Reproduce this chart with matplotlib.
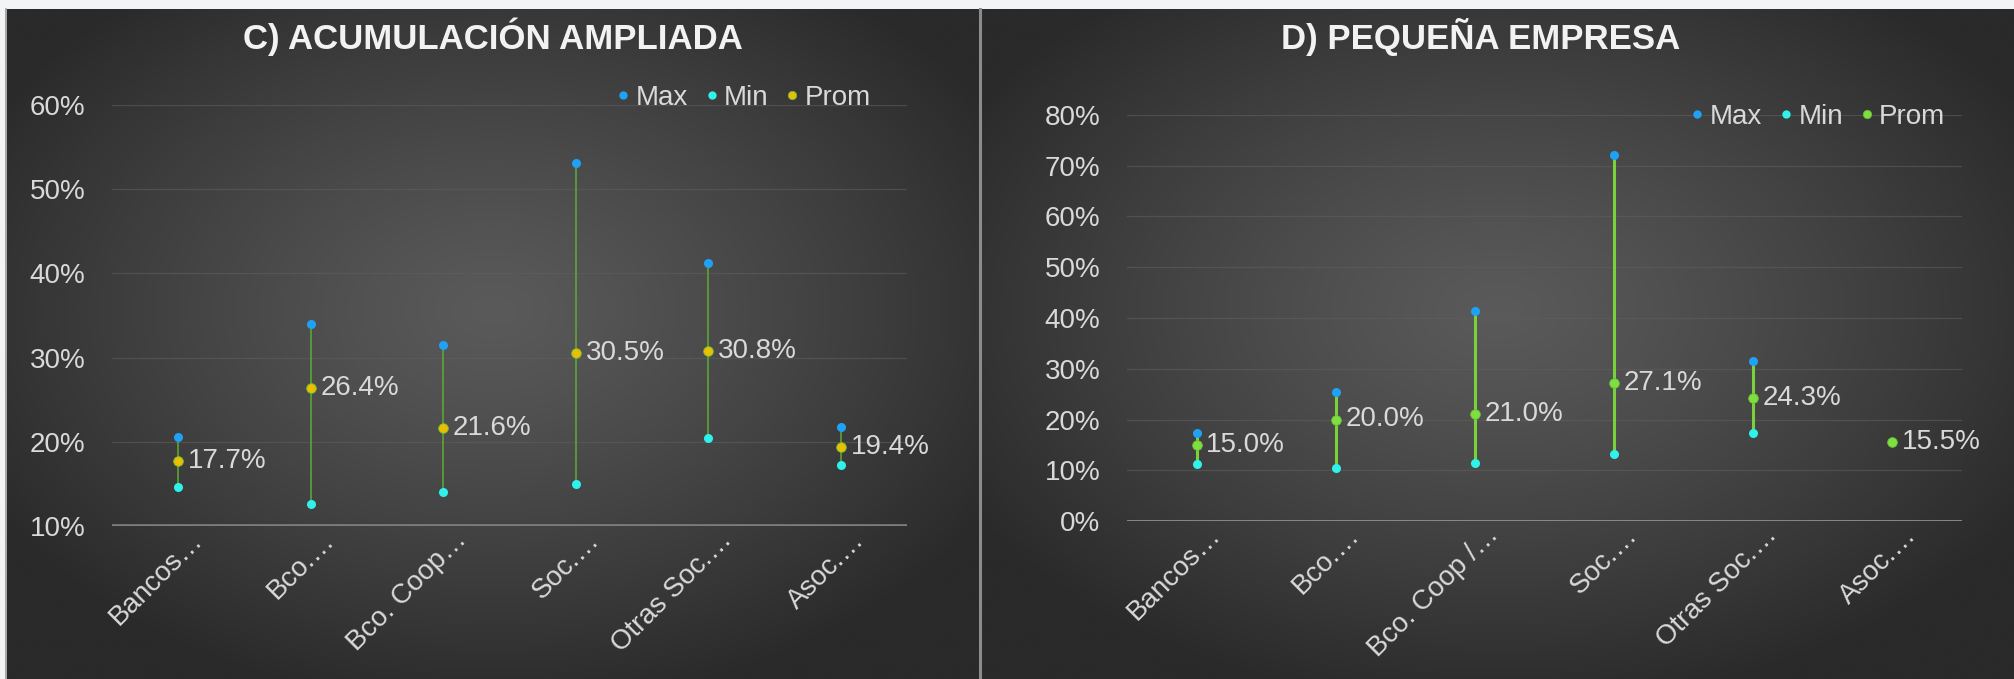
import numpy as np
import matplotlib.pyplot as plt
from matplotlib.ticker import PercentFormatter
from matplotlib.transforms import ScaledTranslation
from matplotlib.lines import Line2D

plt.rcParams['font.family'] = ['Liberation Sans', 'DejaVu Sans']

# Panel C data
cats_c = ["Bancos…", "Bco.…", "Bco. Coop…", "Soc.…", "Otras Soc.…", "Asoc.…"]
max_c = [0.206, 0.340, 0.315, 0.531, 0.412, 0.217]
min_c = [0.146, 0.126, 0.140, 0.150, 0.205, 0.173]
prom_c = [0.177, 0.264, 0.216, 0.305, 0.308, 0.194]

# Panel D data (Asoc. has only the average)
cats_d = ["Bancos…", "Bco.…", "Bco. Coop /…", "Soc.…", "Otras Soc.…", "Asoc.…"]
max_d = [0.173, 0.254, 0.413, 0.722, 0.315, np.nan]
min_d = [0.112, 0.104, 0.114, 0.132, 0.173, np.nan]
prom_d = [0.150, 0.200, 0.210, 0.271, 0.243, 0.155]

W, H = 2015, 679
fig = plt.figure(figsize=(W / 100, H / 100), dpi=100)
fig.patch.set_facecolor('#f3f4f6')

# background panels with radial gradient
bg = fig.add_axes([0, 0, 1, 1], zorder=-10)
bg.axis('off')


def gradient(x0, x1, y0, y1):
    xs = np.linspace(-1, 1, 300)
    ys = np.linspace(-1, 1, 200)
    gx, gy = np.meshgrid(xs, ys)
    r = np.clip(np.sqrt(gx ** 2 + (gy + 0.1) ** 2) / 1.2, 0, 1) ** 1.2
    inner = np.array([0x5a, 0x5a, 0x5a]) / 255
    outer = np.array([0x2a, 0x2a, 0x2a]) / 255
    img = inner[None, None, :] * (1 - r[..., None]) + outer[None, None, :] * r[..., None]
    bg.imshow(img, extent=(x0, x1, y1, y0), aspect='auto', interpolation='bilinear')


gradient(7, 979, 9, H)
gradient(982, W, 9, H)
bg.plot([6.5, 6.5], [9, H], color='#9a9a9a', lw=1.2)
bg.plot([980.5, 980.5], [9, H], color='#8c8c8c', lw=2.2)
bg.set_xlim(0, W)
bg.set_ylim(H, 0)

c_max, c_min = '#1fa2f5', '#2ff2ea'
txt = '#d9d9d9'
fs = 20


def panel(rect, cats, vmax, vmin, vprom, ylim, yt, prom_col, line_col, lw, base_col, base_lw, title, tx, leg_anchor):
    ax = fig.add_axes(rect)
    ax.set_facecolor('none')
    x = np.arange(len(cats))
    ax.vlines(x, vmin, vmax, color=line_col, lw=lw, zorder=2)
    ax.plot(x, vmax, 'o', color=c_max, ms=6.5, mew=0, zorder=3, clip_on=False)
    ax.plot(x, vmin, 'o', color=c_min, ms=6.5, mew=0, zorder=3, clip_on=False)
    ax.plot(x, vprom, 'o', color=prom_col, ms=7, mew=0.6, mec='#6ab83a', zorder=4, clip_on=False)
    for xi, v in zip(x, vprom):
        ax.annotate(f"{v * 100:.1f}%", (xi, v), xytext=(7, 0), textcoords='offset points',
                    ha='left', va='center', color=txt, fontsize=fs)
    ax.set_xlim(-0.5, len(cats) - 0.5)
    ax.set_ylim(*ylim)
    ax.set_yticks(yt)
    ax.yaxis.set_major_formatter(PercentFormatter(1.0, decimals=0))
    ax.grid(axis='y', color='#5e5e5e', lw=0.9, alpha=0.6)
    ax.axhline(ylim[0], color=base_col, lw=base_lw, zorder=1)
    for s in ax.spines.values():
        s.set_visible(False)
    ax.tick_params(axis='y', length=0, pad=19, labelsize=fs, labelcolor=txt)
    ax.tick_params(axis='x', length=0, pad=0, labelsize=fs, labelcolor=txt)
    ax.set_xticks(x)
    ax.set_xticklabels(cats, rotation=45, ha='right', va='center', rotation_mode='anchor')
    off = ScaledTranslation(0.20, -0.10, fig.dpi_scale_trans)
    for lbl in ax.get_xticklabels():
        lbl.set_transform(lbl.get_transform() + off)
    handles = [Line2D([], [], ls='none', marker='o', ms=6, mew=0, color=c_max),
               Line2D([], [], ls='none', marker='o', ms=6, mew=0, color=c_min),
               Line2D([], [], ls='none', marker='o', ms=6, mew=0.6, mec='#6ab83a', color=prom_col)]
    ax.legend(handles, ['Max', 'Min', 'Prom'], ncol=3, loc='center right', bbox_to_anchor=leg_anchor,
              frameon=False, fontsize=fs, labelcolor=txt, handletextpad=0.1, columnspacing=0.5,
              handlelength=0.7, borderpad=0, borderaxespad=0)
    fig.text(tx, 1 - 37 / H, title, ha='center', va='center', color='#f2f2f2',
             fontsize=25, fontweight='bold')
    return ax


panel([112 / W, 1 - 526 / H, 795 / W, 421 / H], cats_c, max_c, min_c, prom_c,
      (0.1, 0.6), np.arange(0.1, 0.61, 0.1), '#e8c000', '#5cae32', 1.1, '#808080', 2.6,
      "C) ACUMULACIÓN AMPLIADA", 493 / W, (0.955, 1.017))

panel([1127 / W, 1 - 521 / H, 835 / W, 406 / H], cats_d, max_d, min_d, prom_d,
      (0.0, 0.8), np.arange(0.0, 0.81, 0.1), '#7ee040', '#7ad23a', 2.2, '#9a9a9a', 1.2,
      "D) PEQUEÑA EMPRESA", 1481 / W, (0.98, 0.995))

fig.savefig('out.png', dpi=100, facecolor=fig.get_facecolor())
